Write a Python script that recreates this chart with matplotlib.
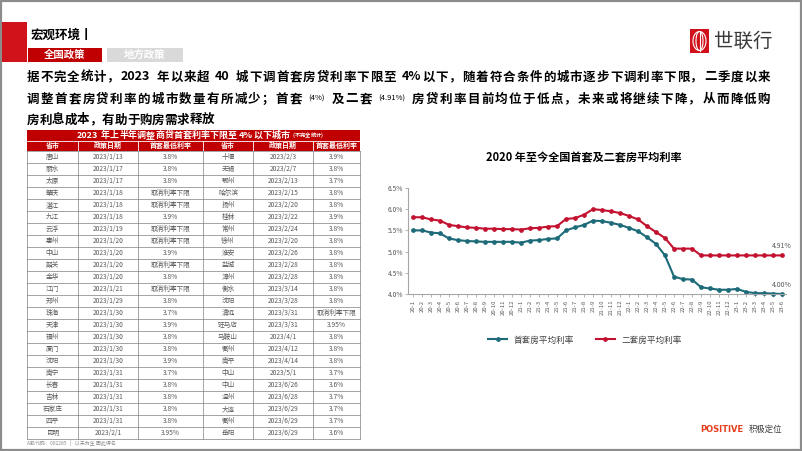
import matplotlib
matplotlib.use("Agg")
import matplotlib.pyplot as plt
from matplotlib.patches import Rectangle, Arc

plt.rcParams['font.family'] = ['Noto Sans CJK SC', 'DejaVu Sans']

# ---- chart data ----
months = ['20-1', '20-2', '20-3', '20-4', '20-5', '20-6', '20-7', '20-8', '20-9', '20-10', '20-11', '20-12',
          '21-1', '21-2', '21-3', '21-4', '21-5', '21-6', '21-7', '21-8', '21-9', '21-10', '21-11', '21-12',
          '22-1', '22-2', '22-3', '22-4', '22-5', '22-6', '22-7', '22-8', '22-9', '22-10', '22-11', '22-12',
          '23-1', '23-2', '23-3', '23-4', '23-5', '23-6']
first_rate = [5.50, 5.50, 5.45, 5.43, 5.31, 5.27, 5.25, 5.24, 5.23, 5.23, 5.23, 5.23,
              5.21, 5.26, 5.27, 5.30, 5.31, 5.50, 5.57, 5.63, 5.73, 5.72, 5.68, 5.63,
              5.56, 5.48, 5.34, 5.18, 4.91, 4.41, 4.35, 4.34, 4.16, 4.13, 4.10, 4.10,
              4.12, 4.05, 4.02, 4.02, 4.01, 4.00]
second_rate = [5.81, 5.81, 5.76, 5.73, 5.63, 5.60, 5.57, 5.56, 5.54, 5.54, 5.53, 5.53,
               5.52, 5.55, 5.56, 5.59, 5.60, 5.77, 5.79, 5.87, 6.00, 5.98, 5.95, 5.91,
               5.84, 5.76, 5.60, 5.46, 5.32, 5.07, 5.07, 5.07, 4.91, 4.91, 4.91, 4.91,
               4.91, 4.91, 4.91, 4.91, 4.91, 4.91]
yticks = [4.0, 4.5, 5.0, 5.5, 6.0, 6.5]

# ---- table data ----
headers = ['省市', '政策日期', '首套最低利率', '省市', '政策日期', '首套最低利率']
left_city = ['唐山', '丽水', '太原', '肇庆', '湛江', '九江', '云浮', '惠州', '中山', '韶关', '金华', '江门',
             '郑州', '珠海', '天津', '福州', '厦门', '沈阳', '南宁', '长春', '吉林', '石家庄', '四平', '昆明']
left_date = ['2023/1/13', '2023/1/17', '2023/1/17', '2023/1/18', '2023/1/18', '2023/1/18', '2023/1/19',
             '2023/1/20', '2023/1/20', '2023/1/20', '2023/1/20', '2023/1/21', '2023/1/29', '2023/1/30',
             '2023/1/30', '2023/1/30', '2023/1/30', '2023/1/30', '2023/1/31', '2023/1/31', '2023/1/31',
             '2023/1/31', '2023/1/31', '2023/2/1']
left_rate = ['3.8%', '3.8%', '3.8%', '取消利率下限', '取消利率下限', '3.9%', '取消利率下限', '取消利率下限',
             '3.9%', '取消利率下限', '3.8%', '取消利率下限', '3.8%', '3.7%', '3.9%', '3.8%', '3.8%', '3.9%',
             '3.7%', '3.8%', '3.8%', '3.8%', '3.8%', '3.95%']
right_city = ['十堰', '无锡', '鄂州', '哈尔滨', '扬州', '桂林', '常州', '徐州', '淮安', '盐城', '漳州', '衡水',
              '沈阳', '清远', '驻马店', '马鞍山', '衢州', '南平', '中山', '中山', '温州', '大连', '衢州', '岳阳']
right_date = ['2023/2/3', '2023/2/7', '2023/2/13', '2023/2/15', '2023/2/20', '2023/2/22', '2023/2/24',
              '2023/2/20', '2023/2/26', '2023/2/28', '2023/2/28', '2023/3/14', '2023/3/28', '2023/3/31',
              '2023/3/31', '2023/4/1', '2023/4/12', '2023/4/14', '2023/5/1', '2023/6/26', '2023/6/28',
              '2023/6/29', '2023/6/29', '2023/6/29']
right_rate = ['3.9%', '3.8%', '3.7%', '3.8%', '3.8%', '3.9%', '3.8%', '3.8%', '3.8%', '3.8%', '3.8%', '3.8%',
              '3.8%', '取消利率下限', '3.95%', '3.8%', '3.8%', '3.8%', '3.7%', '3.6%', '3.7%', '3.7%',
              '3.7%', '3.6%']

RED = '#c00000'
TEAL = '#1d6a78'
LINE_RED = '#c3122f'
GRAY = '#595959'
W, H = 802, 451

fig = plt.figure(figsize=(W / 100, H / 100), dpi=100)
s = fig.add_axes([0, 0, 1, 1])
s.set_xlim(0, W)
s.set_ylim(H, 0)
s.axis('off')
renderer = fig.canvas.get_renderer()


def is_cjk(ch):
    return ord(ch) >= 0x2E80


def draw_line(y, parts, x0, x1=None, center=None, color='black'):
    # parts: (text, size, weight); lays tokens one after another,
    # justifies to x1 or centers on `center`
    tokens = []
    for txt, size, wt in parts:
        em = size * 100 / 72
        buf = ''
        for ch in txt + '\0':
            if ch != '\0' and not is_cjk(ch) and ch != ' ':
                buf += ch
                continue
            if buf:
                t = s.text(0, y, buf, fontsize=size, fontweight=wt, color=color, va='center', ha='left')
                tokens.append((t, t.get_window_extent(renderer=renderer).width + em * 0.06))
                buf = ''
            if ch == '\0':
                break
            if ch == ' ':
                tokens.append((None, em * 0.3))
            else:
                t = s.text(0, y, ch, fontsize=size, fontweight=wt, color=color, va='center', ha='left')
                tokens.append((t, em))
    total = sum(w for _, w in tokens)
    gap = 0
    if x1 is not None:
        gap = (x1 - x0 - total) / (len(tokens) - 1)
    if center is not None:
        x0 = center - total / 2
    x = x0
    for t, w in tokens:
        if t is not None:
            t.set_x(x)
        x += w + gap


# ---- slide frame and header ----
s.add_patch(Rectangle((0.8, 0.8), W - 1.6, H - 1.6, fill=False, ec='#8c8c8c', lw=1.6))
s.add_patch(Rectangle((2, 22), 25, 40, color='#d0121b', lw=0))
s.text(31, 35, '宏观环境丨', fontsize=9, fontweight='bold', va='center', ha='left')
s.add_patch(Rectangle((28, 48), 74, 14, color=RED, lw=0))
s.text(65, 55, '全国政策', fontsize=7.5, fontweight='bold', color='white', va='center', ha='center')
s.add_patch(Rectangle((107, 48), 76, 14, color='#d9d9d9', lw=0))
s.text(145, 55, '地方政策', fontsize=7.5, fontweight='bold', color='white', va='center', ha='center')

# logo
s.add_patch(Rectangle((690, 29), 19, 24, color='#d0111b', lw=0))
s.add_patch(Arc((699.5, 41), 13, 19, color='white', lw=0.8))
s.add_patch(Arc((699.5, 41), 7, 19, color='white', lw=0.8))
s.plot([699.5, 699.5], [31.5, 50.5], color='white', lw=0.8)
s.text(714, 41, '世联行', fontsize=14, color='#3a3a3a', va='center', ha='left')

# paragraph
draw_line(77, [('据不完全统计，2023 年以来超 40 城下调首套房贷利率下限至 4%以下，随着符合条件的城市逐步下调利率下限，二季度以来', 9, 'bold')],
          27, 770)
draw_line(99, [('调整首套房贷利率的城市数量有所减少；首套 ', 9, 'bold'), ('(4%)', 5.5, 'normal'),
               (' 及二套 ', 9, 'bold'), ('(4.91%)', 5.5, 'normal'),
               (' 房贷利率目前均位于低点，未来或将继续下降，从而降低购', 9, 'bold')], 27, 770)
draw_line(120, [('房利息成本，有助于购房需求释放', 9, 'bold')], 27)

# ---- table ----
col_x = [27, 78, 138, 203, 253, 313, 360]
top = 130
title_h = 10.5
head_h = 10.5
row_h = 12.0
n = len(left_city)
s.add_patch(Rectangle((col_x[0], top), col_x[-1] - col_x[0], title_h + head_h, color=RED, lw=0))
draw_line(top + title_h / 2, [('2023 年上半年调整商贷首套利率下限至 4%以下城市 ', 6.5, 'bold'), ('(不完全统计)', 3.8, 'bold')],
          0, center=200, color='white')
s.plot([col_x[0], col_x[-1]], [top + title_h] * 2, color='white', lw=0.6)
for i, h in enumerate(headers):
    s.text((col_x[i] + col_x[i + 1]) / 2, top + title_h + head_h / 2, h, fontsize=5, fontweight='bold',
           color='white', ha='center', va='center')
for xv in col_x[1:-1]:
    s.plot([xv, xv], [top + title_h, top + title_h + head_h], color='white', lw=0.6)

y0 = top + title_h + head_h
columns = [left_city, left_date, left_rate, right_city, right_date, right_rate]
for r in range(n):
    yc = y0 + (r + 0.5) * row_h
    for c, col in enumerate(columns):
        s.text((col_x[c] + col_x[c + 1]) / 2, yc, col[r], fontsize=4.8, color=GRAY, ha='center', va='center')
for r in range(n + 1):
    s.plot([col_x[0], col_x[-1]], [y0 + r * row_h] * 2, color='#7f7f7f', lw=0.5)
for xv in col_x:
    s.plot([xv, xv], [y0, y0 + n * row_h], color='#7f7f7f', lw=0.5)
s.text(27, y0 + n * row_h + 4.5, 'A股代码：002285   |   以未为生 因此得名', fontsize=3.6, color='#8c8c8c',
       ha='left', va='center')

# footer brand
s.text(700, 429, 'POSITIVE', fontsize=6, fontweight='bold', color='#e63d1c', ha='left', va='center',
       family='DejaVu Sans')
s.text(749, 429, '积极定位', fontsize=6, color='#3a3a3a', ha='left', va='center')

# ---- line chart ----
s.text(584, 158, '2020 年至今全国首套及二套房平均利率', fontsize=8, fontweight='bold', ha='center', va='center')

ax = fig.add_axes([408.5 / W, 1 - 294 / H, 378 / W, 106 / H])
ax.patch.set_alpha(0)
xs = list(range(len(months)))
ax.plot(xs, first_rate, color=TEAL, lw=1.5, marker='o', ms=2.4, clip_on=False, label='首套房平均利率')
ax.plot(xs, second_rate, color=LINE_RED, lw=1.5, marker='o', ms=2.4, clip_on=False, label='二套房平均利率')
ax.set_xlim(-0.5, len(months) - 0.5)
ax.set_ylim(yticks[0], yticks[-1])
ax.set_yticks(yticks)
ax.set_yticklabels([f'{v:.1f}%' for v in yticks], fontsize=4.8, color=GRAY)
ax.set_xticks(xs)
ax.set_xticklabels(months, rotation=90, fontsize=4.3, color=GRAY)
for side in ('top', 'right'):
    ax.spines[side].set_visible(False)
for side in ('left', 'bottom'):
    ax.spines[side].set_color('#a6a6a6')
    ax.spines[side].set_linewidth(0.8)
ax.tick_params(length=2, width=0.6, color='#a6a6a6', pad=2)

ax.annotate(f'{second_rate[-1]:.2f}%', (xs[-1], second_rate[-1]), xytext=(0, 6.5), textcoords='offset points',
            ha='center', va='center', fontsize=5, color=GRAY)
ax.annotate(f'{first_rate[-1]:.2f}%', (xs[-1], first_rate[-1]), xytext=(0, 6.5), textcoords='offset points',
            ha='center', va='center', fontsize=5, color=GRAY)

fig.legend(loc='center', bbox_to_anchor=(585 / W, 1 - 340 / H), ncol=2, frameon=False, fontsize=6.2,
           handlelength=2.2, columnspacing=2.5, labelcolor='#404040')

fig.savefig('out.png', dpi=100)
